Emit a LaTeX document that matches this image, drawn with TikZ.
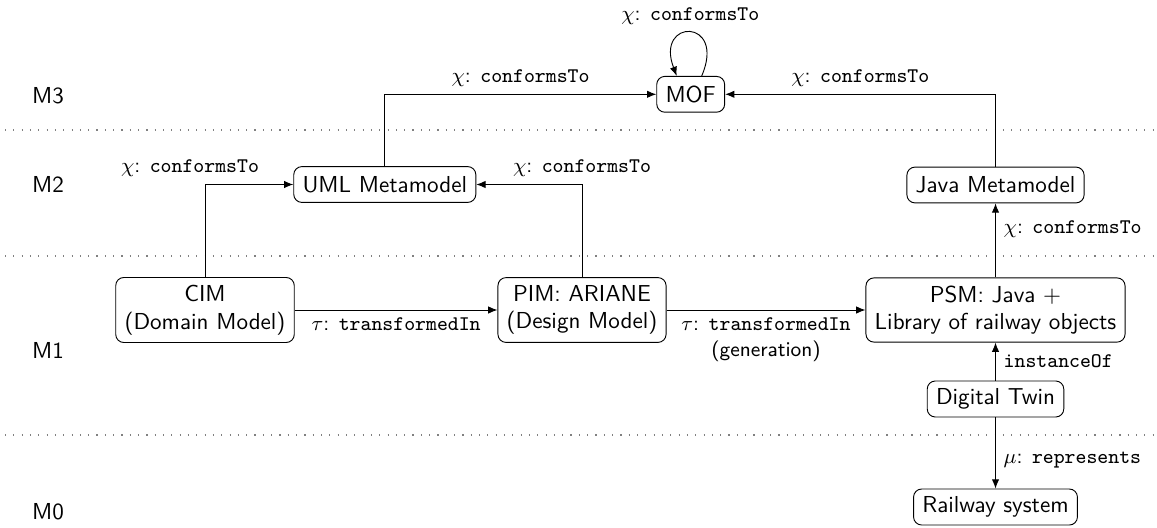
\documentclass[tikz,border=0pt]{standalone}
\usetikzlibrary{arrows.meta,calc}
\begin{document}
\begin{tikzpicture}[x=0.4329pt,y=-0.4329pt, font=\sffamily,
  box/.style={draw, rounded corners=3.5pt, inner xsep=3.8pt, inner ysep=3.3pt, minimum height=15.5pt, align=center},
  conn/.style={-{Latex[length=4pt,width=3.2pt]}},
  layer/.style={gray, dash pattern=on 0.5pt off 3.1pt, line width=0.5pt},
  lbl/.style={font=\sffamily\small}]
\useasboundingbox (0,0) rectangle (1157,527);
% layer separators
\coordinate (l1a) at (5,130);   \coordinate (l1b) at (1157,130);
\coordinate (l2a) at (5,256);   \coordinate (l2b) at (1157,256);
\coordinate (l3a) at (5,435);   \coordinate (l3b) at (1157,435);
\draw[layer] (l1a) -- (l1b);
\draw[layer] (l2a) -- (l2b);
\draw[layer] (l3a) -- (l3b);
% layer names
\node[anchor=west] (m3) at (24,96) {M3};
\node[anchor=west] (m2) at (24,184) {M2};
\node[anchor=west] (m1) at (24,350) {M1};
\node[anchor=west] (m0) at (24,512) {M0};
% boxes
\node[box] (mof) at (690.7,94.3) {MOF};
\node[box] (uml) at (384.8,184.5) {UML Metamodel};
\node[box] (java) at (995.5,185) {Java Metamodel};
\node[box] (cim) at (205,310) {CIM\\(Domain Model)};
\node[box] (pim) at (582,310) {PIM: ARIANE\\(Design Model)};
\node[box] (psm) at (995.5,310) {PSM: Java $+$\\Library of railway objects};
\node[box] (dt) at (995.5,399) {Digital Twin};
\node[box] (rs) at (995.5,507) {Railway system};
% connectors
\draw[conn] ($(mof.north)+(11,0)$) .. controls +(25,-58) and +(-22,-58) .. node[pos=0.5,above,lbl] {$\chi$: \texttt{conformsTo}} ($(mof.north)+(-14,0)$);
\draw[conn] (uml.north) |- node[pos=0.75,above,lbl] {$\chi$: \texttt{conformsTo}} (mof.west);
\draw[conn] (java.north) |- node[pos=0.75,above,lbl] {$\chi$: \texttt{conformsTo}} (mof.east);
\draw[conn] (cim.north) |- node[pos=0.5,above,xshift=-6.5pt,lbl] {$\chi$: \texttt{conformsTo}} (uml.west);
\draw[conn] (pim.north) |- node[pos=0.5,above,lbl] {$\chi$: \texttt{conformsTo}} (uml.east);
\draw[conn] (cim) -- node[below,lbl] {$\tau$: \texttt{transformedIn}} (pim);
\draw[conn] (pim) -- node[below,align=center,lbl] {$\tau$: \texttt{transformedIn}\\(generation)} (psm);
\draw[conn] (psm) -- node[pos=0.65,right,lbl] {$\chi$: \texttt{conformsTo}} (java);
\draw[conn] (dt) -- node[right,lbl] {\texttt{instanceOf}} (psm);
\draw[conn] (dt) -- node[pos=0.6,right,lbl] {$\mu$: \texttt{represents}} (rs);
\end{tikzpicture}
\end{document}
